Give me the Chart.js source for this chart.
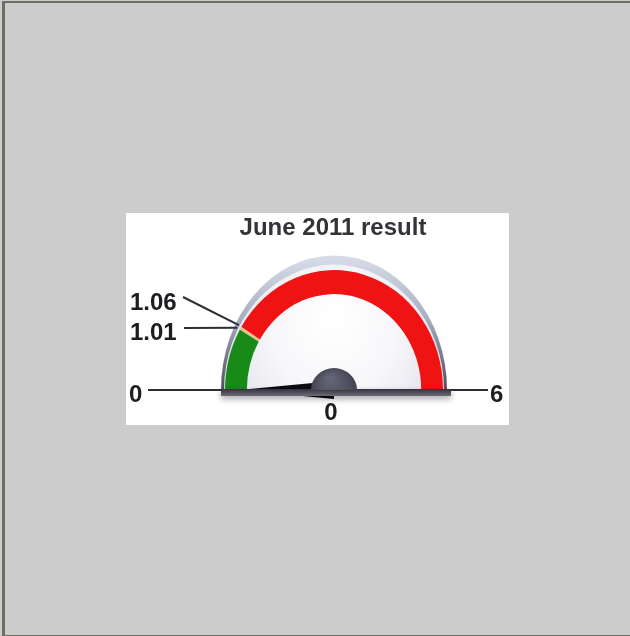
<!DOCTYPE html>
<html>
<head>
<meta charset="utf-8">
<script src="https://cdn.jsdelivr.net/npm/chart.js@4.4.0/dist/chart.umd.min.js"></script>
<style>
    html, body { margin: 0; padding: 0; overflow: hidden; background: #cccccc; }
    #frame {
        position: absolute; left: 2px; top: 1px; width: 625px; height: 632px;
        border-top: 2px solid #6e6e60; border-left: 3px solid #6e6e60; border-bottom: 1px solid #6e6e60;
    }
    #panel { position: absolute; left: 126px; top: 213px; width: 383px; height: 212px; background: #ffffff; }
    #gauge { display: block; }
</style>
</head>
<body>
<div id="frame"></div>
<div id="panel"><canvas id="gauge" width="383" height="212"></canvas></div>
<script>
// 게이지 제목
const TITLE = 'June 2011 result';

// 구간 이름, 경계값, 색상
const bandNames = ['Below 1.01', '1.01 - 1.06', 'Above 1.06'];
const bandEdges = [0, 1.01, 1.06, 6];
const bandColors = ['#178a17', '#e9c38c', '#f01313'];

// 현재 값 (바늘 위치)
const gaugeValue = 0;

// 눈금 라벨
const edgeLabels = ['0', '1.01', '1.06', '6'];

// 구간 크기 = 경계값 차이
const bandSizes = bandEdges.slice(1).map((e, i) => e - bandEdges[i]);

const STRETCH = 1.1; // 원본 게이지는 세로로 약간 늘어난 모양
const LABEL_FONT = 'bold 24px "Liberation Sans", Arial, sans-serif';

/**
 * 텍스트를 그리는 메서드
 */
function drawText(ctx, text, x, y, align, color) {
    ctx.save();
    ctx.font = LABEL_FONT;
    ctx.fillStyle = color || '#1e1e22';
    ctx.textBaseline = 'alphabetic';
    ctx.textAlign = align;
    ctx.fillText(text, x, y);
    ctx.restore();
}

function drawLine(ctx, x1, y1, x2, y2) {
    ctx.save();
    ctx.strokeStyle = '#2e2e34';
    ctx.lineWidth = 2;
    ctx.beginPath();
    ctx.moveTo(x1, y1);
    ctx.lineTo(x2, y2);
    ctx.stroke();
    ctx.restore();
}

const gaugePlugin = {
    id: 'gaugeFace',
    beforeDatasetsDraw(chart) {
        const ctx = chart.ctx;
        const arc = chart.getDatasetMeta(0).data[0];
        const { x, y, outerRadius } = arc;

        // 바깥 테두리
        ctx.save();
        const rimGrad = ctx.createLinearGradient(0, y - outerRadius * 1.22, 0, y);
        rimGrad.addColorStop(0, '#d6dde8');
        rimGrad.addColorStop(0.45, '#a8b0c2');
        rimGrad.addColorStop(1, '#4e4e62');
        ctx.beginPath();
        ctx.ellipse(x, y, outerRadius + 4, (outerRadius + 4) * 1.19, 0, Math.PI, 2 * Math.PI);
        ctx.closePath();
        ctx.fillStyle = rimGrad;
        ctx.fill();

        // 게이지 안쪽 면
        const faceGrad = ctx.createRadialGradient(x, y - 75, 5, x, y - 40, outerRadius + 10);
        faceGrad.addColorStop(0, '#ffffff');
        faceGrad.addColorStop(0.5, '#f7f7fa');
        faceGrad.addColorStop(1, '#dedee8');
        ctx.beginPath();
        ctx.ellipse(x, y, outerRadius + 1, (outerRadius + 1) * 1.14, 0, Math.PI, 2 * Math.PI);
        ctx.closePath();
        ctx.fillStyle = faceGrad;
        ctx.fill();
        ctx.restore();

        // 구간 호를 세로로 늘려서 그림
        ctx.save();
        ctx.translate(x, y);
        ctx.scale(1, STRETCH);
        ctx.translate(-x, -y);
    },
    afterDatasetsDraw(chart) {
        const ctx = chart.ctx;
        ctx.restore();

        const meta = chart.getDatasetMeta(0);
        const arcs = meta.data;
        const { x, y, outerRadius } = arcs[0];
        const start = arcs[0].startAngle;
        const end = arcs[arcs.length - 1].endAngle;
        const min = bandEdges[0];
        const max = bandEdges[bandEdges.length - 1];
        const angleOf = (v) => start + (v - min) / (max - min) * (end - start);
        const pointAt = (v, r) => {
            const a = angleOf(v);
            return { x: x + r * Math.cos(a), y: y + r * STRETCH * Math.sin(a) };
        };

        // 바늘
        const a = angleOf(gaugeValue);
        const tip = pointAt(gaugeValue, 95);
        const hw = 9;
        ctx.save();
        ctx.fillStyle = '#0c0c10';
        ctx.beginPath();
        ctx.moveTo(tip.x, tip.y);
        ctx.lineTo(x - hw * Math.sin(a), y + hw * Math.cos(a));
        ctx.lineTo(x + hw * Math.sin(a), y - hw * Math.cos(a));
        ctx.closePath();
        ctx.fill();
        ctx.restore();

        // 밑변 막대
        ctx.save();
        ctx.shadowColor = 'rgba(0, 0, 0, 0.35)';
        ctx.shadowBlur = 6;
        ctx.shadowOffsetY = 3;
        const barGrad = ctx.createLinearGradient(0, y - 1, 0, y + 6);
        barGrad.addColorStop(0, '#33333d');
        barGrad.addColorStop(1, '#6c6c7a');
        ctx.fillStyle = barGrad;
        ctx.fillRect(x - 113, y - 1, 230, 7);
        ctx.restore();

        // 중심 허브
        ctx.save();
        const hubGrad = ctx.createRadialGradient(x - 4, y - 12, 2, x, y, 24);
        hubGrad.addColorStop(0, '#646478');
        hubGrad.addColorStop(1, '#42424f');
        ctx.fillStyle = hubGrad;
        ctx.beginPath();
        ctx.ellipse(x, y, 23, 22, 0, Math.PI, 2 * Math.PI);
        ctx.closePath();
        ctx.fill();
        ctx.restore();

        // 최소/최대 라벨
        drawLine(ctx, 22, y, x - 113, y);
        drawText(ctx, edgeLabels[0], 3, y + 12, 'left');
        drawLine(ctx, x + 117, y, 362, y);
        drawText(ctx, edgeLabels[3], 364, y + 12, 'left');

        // 1.01 / 1.06 경계 라벨
        const p1 = pointAt(bandEdges[1], outerRadius + 3);
        const p2 = pointAt(bandEdges[2], outerRadius + 3);
        drawLine(ctx, 58, 115, p1.x, p1.y);
        drawText(ctx, edgeLabels[1], 4, 127, 'left');
        drawLine(ctx, 57, 84, p2.x, p2.y);
        drawText(ctx, edgeLabels[2], 4, 97, 'left');

        // 현재 값
        drawText(ctx, String(gaugeValue), x - 3, 207, 'center');

        // 제목
        drawText(ctx, TITLE, 207, 22, 'center', '#333338');
    }
};

new Chart(document.getElementById('gauge'), {
    type: 'doughnut',
    data: {
        labels: bandNames,
        datasets: [{
            data: bandSizes,
            backgroundColor: bandColors,
            borderWidth: 0,
            clip: false
        }]
    },
    options: {
        responsive: false,
        animation: false,
        events: [],
        rotation: -90,
        circumference: 180,
        cutout: '80%',
        radius: 109,
        layout: { padding: { left: 33, right: 0, top: 33, bottom: 0 } },
        plugins: {
            legend: { display: false },
            tooltip: { enabled: false },
            title: { display: false }
        }
    },
    plugins: [gaugePlugin]
});
</script>
</body>
</html>
